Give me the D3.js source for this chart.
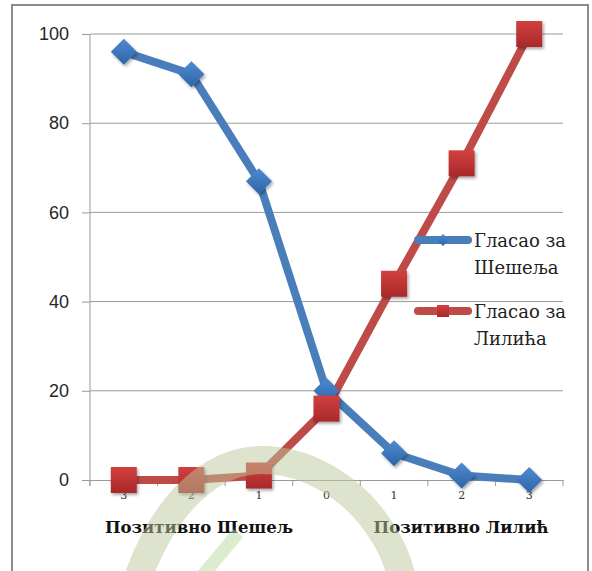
<!DOCTYPE html>
<html><head><meta charset="utf-8">
<script src="https://cdn.jsdelivr.net/npm/d3@7"></script>
<style>body{margin:0;background:#fff}svg{display:block}</style>
</head><body>
<svg id="c" width="592" height="571"></svg>
<script>
const categories = ["S3","S2","S1","N0","L1","L2","L3"];
const tickLabels = ["3","2","1","0","1","2","3"];
const groupLabels = ["Позитивно Шешељ","Позитивно Лилић"];
const seselj = [96, 91, 67, 20, 6, 1, 0];
const lilic = [0, 0, 1, 16, 44, 71, 100];
const seriesNames = [["Гласао за","Шешеља"],["Гласао за","Лилића"]];
const yTicks = [0,20,40,60,80,100];

const SERIF = "'DejaVu Serif','Liberation Serif',serif";
const SANS = "'Liberation Sans','DejaVu Sans',sans-serif";

const svg = d3.select("#c");
const defs = svg.append("defs");
const f = defs.append("filter").attr("id","sh").attr("x","-50%").attr("y","-50%").attr("width","200%").attr("height","200%");
f.append("feDropShadow").attr("dx",1.5).attr("dy",2).attr("stdDeviation",1.5).attr("flood-color","#000").attr("flood-opacity",0.35);
const gb = defs.append("linearGradient").attr("id","gb").attr("x1",0).attr("y1",0).attr("x2",0).attr("y2",1);
gb.append("stop").attr("offset","0").attr("stop-color","#4f8bd0");
gb.append("stop").attr("offset","1").attr("stop-color","#2d64a8");
const gr = defs.append("linearGradient").attr("id","gr").attr("x1",0).attr("y1",0).attr("x2",0).attr("y2",1);
gr.append("stop").attr("offset","0").attr("stop-color","#d2403e");
gr.append("stop").attr("offset","1").attr("stop-color","#a8282a");

// frame
svg.append("path").attr("d","M12,571 V5 H588 V571").attr("fill","none").attr("stroke","#8c8c8c").attr("stroke-width",2);

const x = d3.scaleBand().domain(categories).range([90,563]).padding(0);
const y = d3.scaleLinear().domain([0,100]).range([480,34]);

// gridlines
svg.append("g").selectAll("line").data(yTicks.filter(d=>d>0)).join("line")
  .attr("x1",90).attr("x2",563).attr("y1",d=>y(d)).attr("y2",d=>y(d))
  .attr("stroke","#9a9a9a").attr("stroke-width",1);

// y axis
const ya = svg.append("g").attr("transform","translate(90,0)")
  .call(d3.axisLeft(y).tickValues(yTicks).tickSizeInner(8).tickSizeOuter(0).tickPadding(13));
ya.select(".domain").attr("stroke","#9a9a9a").attr("d","M0,34V486");
ya.selectAll(".tick line").attr("stroke","#9a9a9a");
ya.selectAll(".tick text").style("font-family",SANS).style("font-size","18px").attr("fill","#262626");

// x axis
const xa = svg.append("g").attr("transform","translate(0,480)")
  .call(d3.axisBottom(x).tickSizeInner(0).tickSizeOuter(0).tickPadding(11).tickFormat((d,i)=>tickLabels[i]));
xa.select(".domain").attr("stroke","#9a9a9a");
xa.selectAll(".tick text").style("font-family",SERIF).style("font-size","11px").attr("fill","#333");
const bounds = categories.map(c=>x(c)).concat([x.range()[1]]);
xa.append("g").selectAll("line").data(bounds).join("line")
  .attr("x1",d=>d).attr("x2",d=>d).attr("y1",0).attr("y2",6).attr("stroke","#9a9a9a");

// group labels
const gcx = [199, 461];
svg.append("g").selectAll("text").data(groupLabels).join("text")
  .style("font-family",SERIF).style("font-weight","bold").style("font-size","16.5px")
  .attr("x",(d,i)=>gcx[i]).attr("y",533).attr("text-anchor","middle")
  .attr("fill","#111")
  .text(d=>d);

const cx = c => x(c)+x.bandwidth()/2;
const line = d3.line().x((d,i)=>cx(categories[i])).y(d=>y(d));

// lines
svg.append("path").datum(seselj).attr("d",line).attr("fill","none").attr("stroke","#4a7ebb").attr("stroke-width",8).attr("stroke-linejoin","round");
svg.append("path").datum(lilic).attr("d",line).attr("fill","none").attr("stroke","#be4b48").attr("stroke-width",8).attr("stroke-linejoin","round");

// markers
const ds = 13;
svg.append("g").selectAll("path").data(seselj).join("path")
  .attr("d",(d,i)=>{const X=cx(categories[i]),Y=y(d);return `M${X},${Y-ds}L${X+ds},${Y}L${X},${Y+ds}L${X-ds},${Y}Z`;})
  .attr("fill","url(#gb)").attr("filter","url(#sh)");
const ss = 13;
svg.append("g").selectAll("rect").data(lilic).join("rect")
  .attr("x",(d,i)=>cx(categories[i])-ss).attr("y",d=>y(d)-ss).attr("width",ss*2).attr("height",ss*2)
  .attr("fill","url(#gr)").attr("filter","url(#sh)");

// legend
const leg = svg.append("g");
const legY = [240, 311];
const legCol = ["#4a7ebb","#be4b48"];
legY.forEach((ly,i)=>{
  leg.append("line").attr("x1",418).attr("x2",468).attr("y1",ly).attr("y2",ly).attr("stroke",legCol[i]).attr("stroke-width",8).attr("stroke-linecap","round");
  if(i===0){
    leg.append("path").attr("d",`M443,${ly-6}L449,${ly}L443,${ly+6}L437,${ly}Z`).attr("fill","url(#gb)");
  } else {
    leg.append("rect").attr("x",437).attr("y",ly-6).attr("width",12).attr("height",12).attr("fill","url(#gr)");
  }
  [0,1].forEach(k=>{
    leg.append("text").style("font-family",SERIF).style("font-size","18px")
      .attr("x",474).attr("y",ly+7+k*27).attr("fill","#222").text(seriesNames[i][k]);
  });
});

// watermark
svg.append("path").attr("d","M139,575 C165,505 210,460 262,460 C310,460 350,490 370,515 C388,538 396,555 401,575")
  .attr("fill","none").attr("stroke","#bcc79a").attr("stroke-opacity",0.5).attr("stroke-width",28);
svg.append("path").attr("d","M203,575 L238,533")
  .attr("fill","none").attr("stroke","#b9dca0").attr("stroke-opacity",0.5).attr("stroke-width",13);
</script>
</body></html>
